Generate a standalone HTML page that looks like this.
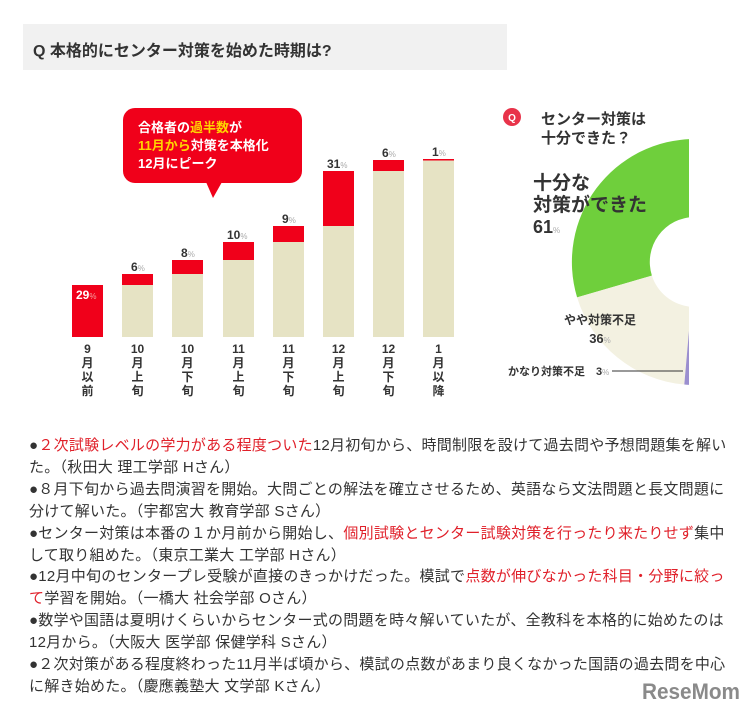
<!DOCTYPE html>
<html><head><meta charset="utf-8"><style>
body{margin:0;background:#fff;width:755px;height:713px;overflow:hidden;position:relative;font-family:"Liberation Sans","Noto Sans CJK JP",sans-serif;}
.hd{position:absolute;left:23px;top:24px;width:484px;height:46px;background:#f1f1f1;}
.hd span{position:absolute;left:10px;top:13px;font-size:16px;font-weight:bold;color:#333;}
.tx{position:absolute;left:29px;top:435px;width:730px;font-size:15px;line-height:21.9px;color:#333;letter-spacing:0.25px;white-space:nowrap;}
.r{color:#e0202a;}
svg{position:absolute;left:0;top:0;}
</style></head><body>
<div class="hd"><span>Q 本格的にセンター対策を始めた時期は?</span></div>
<svg width="755" height="713" font-family="Liberation Sans, Noto Sans CJK JP, sans-serif">
<g>
<rect x="72" y="285" width="31" height="52" fill="#f0001a"/>
<rect x="122" y="274" width="31" height="63" fill="#e6e3c4"/><rect x="122" y="274" width="31" height="11" fill="#f0001a"/>
<rect x="172" y="260" width="31" height="77" fill="#e6e3c4"/><rect x="172" y="260" width="31" height="14" fill="#f0001a"/>
<rect x="223" y="242" width="31" height="95" fill="#e6e3c4"/><rect x="223" y="242" width="31" height="18" fill="#f0001a"/>
<rect x="273" y="226" width="31" height="111" fill="#e6e3c4"/><rect x="273" y="226" width="31" height="16" fill="#f0001a"/>
<rect x="323" y="171" width="31" height="166" fill="#e6e3c4"/><rect x="323" y="171" width="31" height="55" fill="#f0001a"/>
<rect x="373" y="160" width="31" height="177" fill="#e6e3c4"/><rect x="373" y="160" width="31" height="11" fill="#f0001a"/>
<rect x="423" y="159" width="31" height="178" fill="#e6e3c4"/><rect x="423" y="159" width="31" height="1.5" fill="#f0001a"/>
</g>
<g font-size="12" font-weight="bold" fill="#333">
<text x="76" y="299" fill="#fff">29<tspan font-size="8" fill="#f5a0a0" font-weight="normal">%</tspan></text>
<text x="131" y="271">6<tspan font-size="8" fill="#aaa" font-weight="normal">%</tspan></text>
<text x="181" y="257">8<tspan font-size="8" fill="#aaa" font-weight="normal">%</tspan></text>
<text x="227" y="239">10<tspan font-size="8" fill="#aaa" font-weight="normal">%</tspan></text>
<text x="282" y="223">9<tspan font-size="8" fill="#aaa" font-weight="normal">%</tspan></text>
<text x="327" y="168">31<tspan font-size="8" fill="#aaa" font-weight="normal">%</tspan></text>
<text x="382" y="157">6<tspan font-size="8" fill="#aaa" font-weight="normal">%</tspan></text>
<text x="432" y="156">1<tspan font-size="8" fill="#aaa" font-weight="normal">%</tspan></text>
</g>
<g font-size="12" font-weight="bold" fill="#333" text-anchor="middle">
<text x="87.5" y="353">9</text><text x="87.5" y="367">月</text><text x="87.5" y="381">以</text><text x="87.5" y="395">前</text>
<text x="137.5" y="353">10</text><text x="137.5" y="367">月</text><text x="137.5" y="381">上</text><text x="137.5" y="395">旬</text>
<text x="187.5" y="353">10</text><text x="187.5" y="367">月</text><text x="187.5" y="381">下</text><text x="187.5" y="395">旬</text>
<text x="238.5" y="353">11</text><text x="238.5" y="367">月</text><text x="238.5" y="381">上</text><text x="238.5" y="395">旬</text>
<text x="288.5" y="353">11</text><text x="288.5" y="367">月</text><text x="288.5" y="381">下</text><text x="288.5" y="395">旬</text>
<text x="338.5" y="353">12</text><text x="338.5" y="367">月</text><text x="338.5" y="381">上</text><text x="338.5" y="395">旬</text>
<text x="388.5" y="353">12</text><text x="388.5" y="367">月</text><text x="388.5" y="381">下</text><text x="388.5" y="395">旬</text>
<text x="438.5" y="353">1</text><text x="438.5" y="367">月</text><text x="438.5" y="381">以</text><text x="438.5" y="395">降</text>
</g>
<rect x="123" y="108" width="179" height="75" rx="12" fill="#f0001a"/>
<polygon points="206,182 222,182 213,198" fill="#f0001a"/>
<g font-size="13" font-weight="bold" fill="#fff">
<text x="138" y="132">合格者の<tspan fill="#ffd400">過半数</tspan>が</text>
<text x="138" y="150"><tspan fill="#ffd400">11月から</tspan>対策を本格化</text>
<text x="138" y="168">12月にピーク</text>
</g>
<defs><clipPath id="c"><rect x="0" y="0" width="689" height="713"/></clipPath></defs>
<g clip-path="url(#c)">
<path d="M695,139 A123,123 0 0 0 577.1,297.4 L651.9,275.6 A45,45 0 0 1 695,217 Z" fill="#6fcf3c"/>
<path d="M577.1,297.4 A123,123 0 0 0 684.3,384.5 L691.1,306.8 A45,45 0 0 1 651.9,275.6 Z" fill="#f3f1e1"/>
<path d="M684.3,384.5 A123,123 0 0 0 695,385 L695,307 A45,45 0 0 1 691.1,306.8 Z" fill="#9b8fcf"/>
</g>
<line x1="612" y1="371" x2="683" y2="371" stroke="#333" stroke-width="1"/>
<circle cx="512" cy="117" r="9" fill="#e8334a"/>
<text x="512" y="121" font-size="10" font-weight="bold" fill="#fff" text-anchor="middle">Q</text>
<g font-weight="bold" fill="#333">
<text x="541" y="124" font-size="15">センター対策は</text>
<text x="541" y="143" font-size="15">十分できた？</text>
<text x="533" y="189" font-size="19">十分な</text>
<text x="533" y="211" font-size="19">対策ができた</text>
<text x="533" y="233" font-size="18">61<tspan font-size="8" fill="#aaa" font-weight="normal">%</tspan></text>
<text x="600" y="324" font-size="12" text-anchor="middle">やや対策不足</text>
<text x="600" y="343" font-size="13" text-anchor="middle">36<tspan font-size="8" fill="#aaa" font-weight="normal">%</tspan></text>
<text x="508" y="375" font-size="11">かなり対策不足　3<tspan font-size="8" fill="#aaa" font-weight="normal">%</tspan></text>
</g>
<text x="642" y="699" font-size="22" font-weight="bold" fill="#8a8a8a" textLength="98" lengthAdjust="spacingAndGlyphs">ReseMom</text>
</svg>
<div class="tx">●<span class="r">２次試験レベルの学力がある程度ついた</span>12月初旬から、時間制限を設けて過去問や予想問題集を解い<br>た。（秋田大 理工学部 Hさん）<br>●８月下旬から過去問演習を開始。大問ごとの解法を確立させるため、英語なら文法問題と長文問題に<br>分けて解いた。（宇都宮大 教育学部 Sさん）<br>●センター対策は本番の１か月前から開始し、<span class="r">個別試験とセンター試験対策を行ったり来たりせず</span>集中<br>して取り組めた。（東京工業大 工学部 Hさん）<br>●12月中旬のセンタープレ受験が直接のきっかけだった。模試で<span class="r">点数が伸びなかった科目・分野に絞っ</span><br><span class="r">て</span>学習を開始。（一橋大 社会学部 Oさん）<br>●数学や国語は夏明けくらいからセンター式の問題を時々解いていたが、全教科を本格的に始めたのは<br>12月から。（大阪大 医学部 保健学科 Sさん）<br>●２次対策がある程度終わった11月半ば頃から、模試の点数があまり良くなかった国語の過去問を中心<br>に解き始めた。（慶應義塾大 文学部 Kさん）</div>
</body></html>
